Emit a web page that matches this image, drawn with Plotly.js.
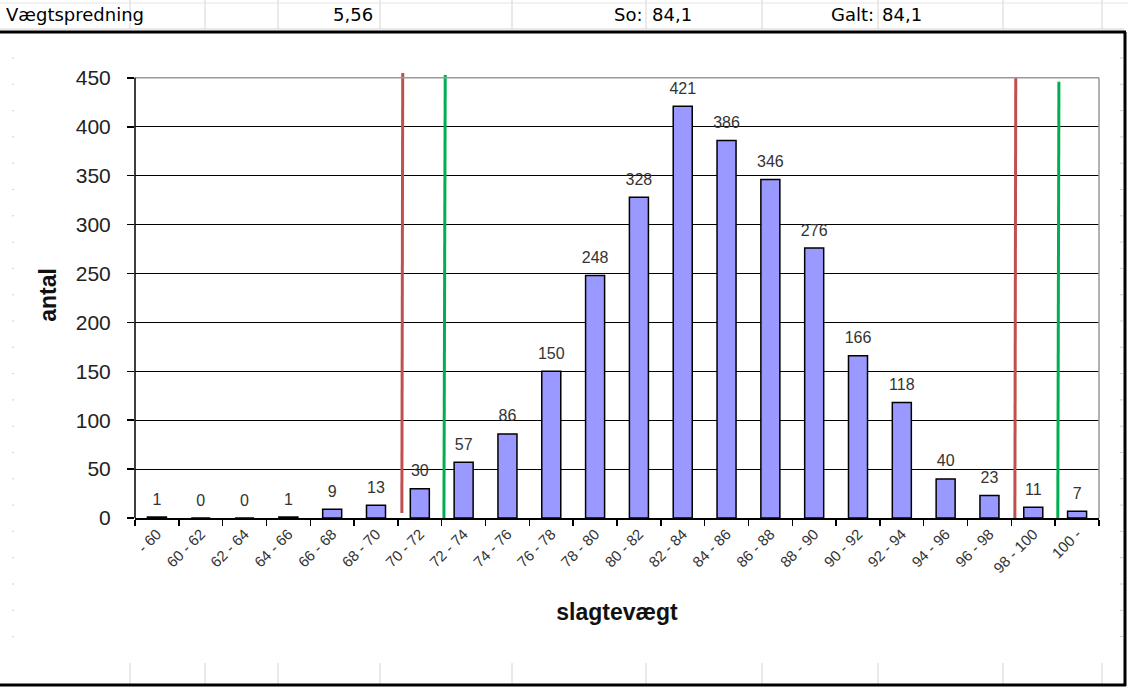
<!DOCTYPE html>
<html>
<head>
<meta charset="utf-8">
<script src="https://cdn.plot.ly/plotly-3.0.1.min.js"></script>
<style>html,body{margin:0;padding:0;background:#fff;}#chart{width:1128px;height:687px;}</style>
</head>
<body>
<div id="chart"></div>
<script>
// ---- data ----
const categories = ["- 60","60 - 62","62 - 64","64 - 66","66 - 68","68 - 70","70 - 72","72 - 74","74 - 76","76 - 78","78 - 80","80 - 82","82 - 84","84 - 86","86 - 88","88 - 90","90 - 92","92 - 94","94 - 96","96 - 98","98 - 100","100 -"];
const antal = [1,0,0,1,9,13,30,57,86,150,248,328,421,386,346,276,166,118,40,23,11,7];
const yTicks = [0,50,100,150,200,250,300,350,400,450];
// limit lines (category-index position, top/bottom value)
const redLineX = [[5.61,5.59],[19.60,19.58]];
const redLineY = [[455,5],[450,0]];
const greenLineX = [[6.58,6.55],[20.585,20.56]];
const greenLineY = [[453,0],[446,0]];
const headerLabels = ["Vægtspredning","5,56","So:","84,1","Galt:","84,1"];

// ---- layout helpers ----
const W=1128,H=687,L=135,R=29,T=72,B=169;
const PW=W-L-R, PH=H-T-B;
const px=x=>(x-L)/PW, py=y=>(H-B-y)/PH;

const traces=[{
  type:'bar', x:categories, y:antal,
  marker:{color:'#9999ff',line:{color:'#000',width:1.5}},
  hoverinfo:'x+y', showlegend:false
},{
  type:'scatter', mode:'markers+text', x:categories, y:antal,
  text:antal.map(String), textposition:'top center',
  textfont:{family:'Liberation Sans, Arial, sans-serif',size:16,color:'#333'},
  marker:{size:12,color:'rgba(0,0,0,0)'}, hoverinfo:'skip', showlegend:false, cliponaxis:false
}];
redLineX.forEach((xs,i)=>traces.push({type:'scatter',mode:'lines',xaxis:'x2',x:xs,y:redLineY[i],line:{color:'#c0504d',width:3},hoverinfo:'skip',showlegend:false}));
greenLineX.forEach((xs,i)=>traces.push({type:'scatter',mode:'lines',xaxis:'x2',x:xs,y:greenLineY[i],line:{color:'#00b050',width:3},hoverinfo:'skip',showlegend:false}));

const shapes=[];
const gray='#d4d4d4';
// spreadsheet grid: column lines top and bottom rows
[130,205,278,380,512,646,762,878,1003,1102].forEach(x=>{
  shapes.push({type:'line',xref:'paper',yref:'paper',x0:px(x),x1:px(x),y0:py(0),y1:py(29),line:{color:gray,width:1}});
  shapes.push({type:'line',xref:'paper',yref:'paper',x0:px(x),x1:px(x),y0:py(663),y1:py(684),line:{color:gray,width:1}});
});
shapes.push({type:'line',xref:'paper',yref:'paper',x0:px(0),x1:px(1128),y0:py(3),y1:py(3),line:{color:'#e4e4e4',width:1}});
shapes.push({type:'line',xref:'paper',yref:'paper',x0:px(0),x1:px(1124),y0:py(29),y1:py(29),line:{color:gray,width:1}});
// row dots on left and right edges
for(let y=58;y<660;y+=26.3){
  shapes.push({type:'line',xref:'paper',yref:'paper',x0:px(12),x1:px(14),y0:py(y),y1:py(y),line:{color:'#cfcfcf',width:1}});
  shapes.push({type:'line',xref:'paper',yref:'paper',x0:px(1120),x1:px(1123),y0:py(y),y1:py(y),line:{color:'#cfcfcf',width:1}});
}
// chart frame
shapes.push({type:'line',xref:'paper',yref:'paper',x0:px(0),x1:px(1126),y0:py(32),y1:py(32),line:{color:'#000',width:3}});
shapes.push({type:'line',xref:'paper',yref:'paper',x0:px(1125),x1:px(1125),y0:py(32),y1:py(686),line:{color:'#000',width:3}});
shapes.push({type:'line',xref:'paper',yref:'paper',x0:px(0),x1:px(1126),y0:py(685),y1:py(685),line:{color:'#000',width:3}});
// plot area border (top / right gray), left axis line
shapes.push({type:'line',xref:'paper',yref:'y',x0:0,x1:1,y0:450,y1:450,line:{color:'#999',width:1.5}});
shapes.push({type:'line',xref:'paper',yref:'y',x0:1,x1:1,y0:0,y1:450,line:{color:'#999',width:1.5}});
shapes.push({type:'line',xref:'paper',yref:'y',x0:0,x1:0,y0:0,y1:450,line:{color:'#000',width:1.5}});

const hf={family:'DejaVu Sans, Verdana, sans-serif',size:18,color:'#000'};
const hy=py(15);
const annotations=[
  {text:headerLabels[0],x:px(4),xanchor:'left'},
  {text:headerLabels[1],x:px(375),xanchor:'right'},
  {text:headerLabels[2],x:px(645),xanchor:'right'},
  {text:headerLabels[3],x:px(650),xanchor:'left'},
  {text:headerLabels[4],x:px(876),xanchor:'right'},
  {text:headerLabels[5],x:px(880),xanchor:'left'}
].map(a=>Object.assign(a,{xref:'paper',yref:'paper',y:hy,yanchor:'middle',showarrow:false,font:hf}));

const layout={
  width:W,height:H,
  margin:{l:L,r:R,t:T,b:B,pad:0},
  paper_bgcolor:'#fff',plot_bgcolor:'#fff',
  bargap:0.566,
  font:{family:'Liberation Sans, Arial, sans-serif',color:'#222'},
  xaxis:{type:'category',range:[-0.5,21.5],autorange:false,showline:true,linecolor:'#000',linewidth:1.5,ticks:'outside',tickson:'boundaries',ticklen:6,tickcolor:'#000',tickwidth:1.5,
    tickangle:-45,tickfont:{size:15,color:'#333'},showgrid:false,zeroline:false,
    title:{text:'slagtevægt',font:{size:23,color:'#111',weight:'bold'},standoff:28}},
  xaxis2:{overlaying:'x',range:[-0.5,21.5],visible:false},
  yaxis:{range:[0,456],autorange:false,tickvals:yTicks,ticks:'outside',ticklen:7,tickcolor:'#000',tickwidth:1.5,
    showline:false,showgrid:true,gridcolor:'#000',gridwidth:1,zeroline:false,
    tickfont:{size:21,color:'#222'},ticklabelstandoff:12,
    title:{text:'antal',font:{size:23,color:'#111',weight:'bold'},standoff:12}},
  shapes:shapes, annotations:annotations
};
Plotly.newPlot('chart',traces,layout,{displayModeBar:false,staticPlot:true});
</script>
</body>
</html>
